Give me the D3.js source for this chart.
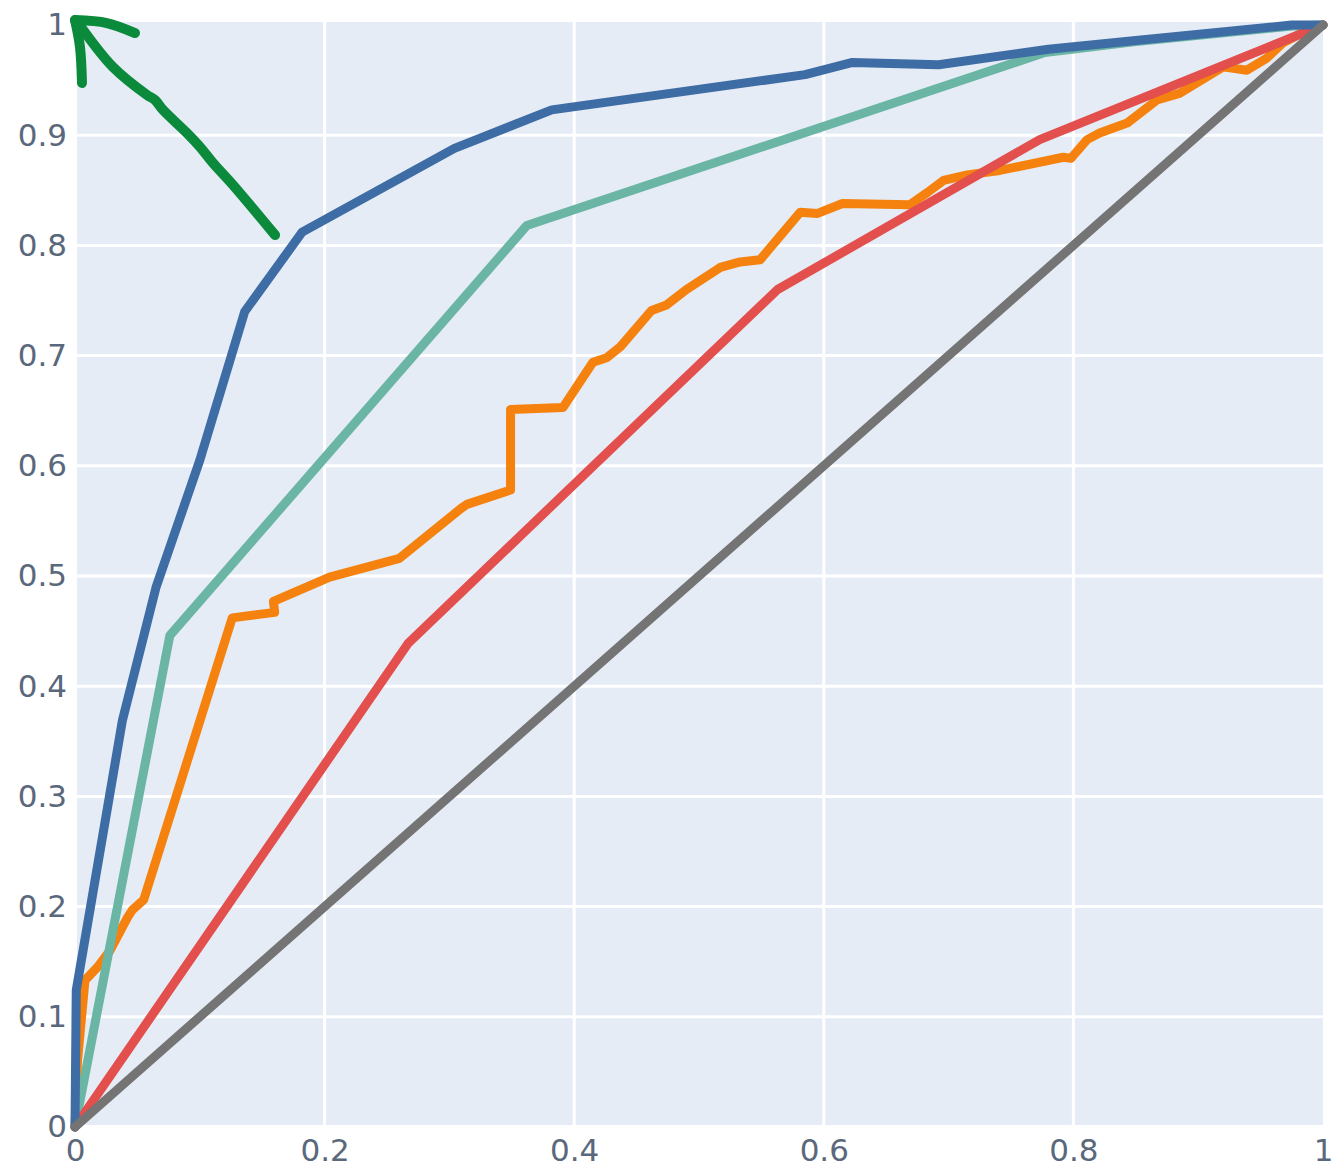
<!DOCTYPE html>
<html>
<head>
<meta charset="utf-8">
<script src="https://cdn.jsdelivr.net/npm/d3@7"></script>
<style>
  html, body { margin: 0; padding: 0; background: #ffffff; }
  svg { display: block; }
</style>
</head>
<body>
<svg id="chart" width="1332" height="1167"></svg>
<script>
// Tick values for both axes
const xTicks = [0, 0.2, 0.4, 0.6, 0.8, 1];
const yTicks = [0, 0.1, 0.2, 0.3, 0.4, 0.5, 0.6, 0.7, 0.8, 0.9, 1];

// ROC curves: false positive rate (x) and true positive rate (y)
const blueFpr = [0, 0.001, 0.038, 0.065, 0.100, 0.136, 0.182, 0.304, 0.382, 0.585, 0.623, 0.692, 0.780, 0.850, 0.975, 1];
const blueTpr = [0, 0.124, 0.369, 0.490, 0.605, 0.740, 0.812, 0.888, 0.923, 0.955, 0.966, 0.964, 0.978, 0.986, 1.000, 1];

const tealFpr = [0, 0.076, 0.362, 0.777, 0.850, 0.975, 1];
const tealTpr = [0, 0.446, 0.818, 0.975, 0.985, 0.999, 1];

const orangeFpr = [0, 0.002, 0.008, 0.018, 0.028, 0.042, 0.046, 0.055, 0.126, 0.160, 0.159, 0.204, 0.260,
  0.309, 0.314, 0.349, 0.349, 0.391, 0.415, 0.426, 0.437, 0.462, 0.474, 0.490, 0.517, 0.533, 0.549, 0.581,
  0.595, 0.615, 0.669, 0.683, 0.696, 0.715, 0.741, 0.792, 0.798, 0.811, 0.821, 0.843, 0.867, 0.885, 0.920,
  0.939, 0.955, 0.968, 0.982, 1];
const orangeTpr = [0, 0.060, 0.133, 0.145, 0.160, 0.190, 0.197, 0.206, 0.462, 0.467, 0.477, 0.499, 0.516,
  0.561, 0.565, 0.578, 0.651, 0.653, 0.694, 0.698, 0.708, 0.741, 0.746, 0.760, 0.780, 0.785, 0.787, 0.830,
  0.829, 0.838, 0.837, 0.848, 0.859, 0.864, 0.868, 0.880, 0.879, 0.896, 0.902, 0.911, 0.932, 0.938, 0.962,
  0.959, 0.970, 0.984, 0.992, 1];

const redFpr = [0, 0.267, 0.563, 0.773, 1];
const redTpr = [0, 0.439, 0.760, 0.896, 1];

// Chance line
const chanceFpr = [0, 1];
const chanceTpr = [0, 1];

// Hand-drawn pointer toward the ideal corner, in data units
const pointerShaftX = [0.1603, 0.1266, 0.1106, 0.1002, 0.0897, 0.0705, 0.0641, 0.0577, 0.0304, 0.0024];
const pointerShaftY = [0.8094, 0.8548, 0.8748, 0.8893, 0.9020, 0.9229, 0.9319, 0.9365, 0.9619, 1.0020];
const pointerArmAX = [0.0, 0.0256, 0.0481];
const pointerArmAY = [1.0045, 1.0018, 0.9927];
const pointerArmBX = [0.0, 0.0040, 0.0056];
const pointerArmBY = [1.0045, 0.9800, 0.9474];

const series = [
  { name: "orange", fpr: orangeFpr, tpr: orangeTpr, color: "#f5820f" },
  { name: "teal",   fpr: tealFpr,   tpr: tealTpr,   color: "#6ab5a3" },
  { name: "red",    fpr: redFpr,    tpr: redTpr,    color: "#e24f4d" },
  { name: "blue",   fpr: blueFpr,   tpr: blueTpr,   color: "#3e6ca4" },
  { name: "chance", fpr: chanceFpr, tpr: chanceTpr, color: "#747474" }
];

const svg = d3.select("#chart");
const x = d3.scaleLinear().domain([0, 1]).range([75, 1323]);
const y = d3.scaleLinear().domain([0, 1]).range([1127, 25]);

// Plot background
svg.append("rect")
  .attr("x", x(0) + 2).attr("y", y(1) - 3)
  .attr("width", x(1) - x(0) - 2).attr("height", y(0) - y(1) + 1)
  .attr("fill", "#e5ecf6");

// Grid
const grid = svg.append("g").attr("stroke", "#ffffff").attr("stroke-width", 3);
grid.selectAll("line.gy").data(yTicks.filter(d => d > 0 && d < 1)).join("line")
  .attr("class", "gy")
  .attr("x1", x(0) + 2).attr("x2", x(1))
  .attr("y1", d => y(d)).attr("y2", d => y(d));
grid.selectAll("line.gx").data(xTicks.filter(d => d > 0 && d < 1)).join("line")
  .attr("class", "gx")
  .attr("x1", d => x(d)).attr("x2", d => x(d))
  .attr("y1", y(1) - 3).attr("y2", y(0));

// Axes
const fmt = d3.format("~g");
const yAxis = svg.append("g")
  .attr("transform", `translate(${x(0)},0)`)
  .call(d3.axisLeft(y).tickValues(yTicks).tickFormat(fmt).tickSize(0).tickPadding(8));
const xAxis = svg.append("g")
  .attr("transform", `translate(0,${y(0)})`)
  .call(d3.axisBottom(x).tickValues(xTicks).tickFormat(fmt).tickSize(0).tickPadding(12));
[xAxis, yAxis].forEach(a => {
  a.select(".domain").remove();
  a.selectAll("text")
    .attr("font-family", "'DejaVu Sans', sans-serif")
    .attr("font-size", 31)
    .attr("fill", "#5a687c");
});

// Curves
const line = d3.line().x(d => x(d[0])).y(d => y(d[1]));
svg.append("g").selectAll("path").data(series).join("path")
  .attr("d", s => line(s.fpr.map((v, i) => [v, s.tpr[i]])))
  .attr("fill", "none")
  .attr("stroke", s => s.color)
  .attr("stroke-width", 9)
  .attr("stroke-linejoin", "round")
  .attr("stroke-linecap", "round");

// Pointer
const smooth = d3.line().x(d => x(d[0])).y(d => y(d[1])).curve(d3.curveCatmullRom);
const pointer = svg.append("g")
  .attr("fill", "none")
  .attr("stroke", "#0b8a3b")
  .attr("stroke-width", 10)
  .attr("stroke-linecap", "round")
  .attr("stroke-linejoin", "round");
[[pointerShaftX, pointerShaftY], [pointerArmAX, pointerArmAY], [pointerArmBX, pointerArmBY]].forEach(([px, py]) => {
  pointer.append("path").attr("d", smooth(px.map((v, i) => [v, py[i]])));
});
</script>
</body>
</html>
